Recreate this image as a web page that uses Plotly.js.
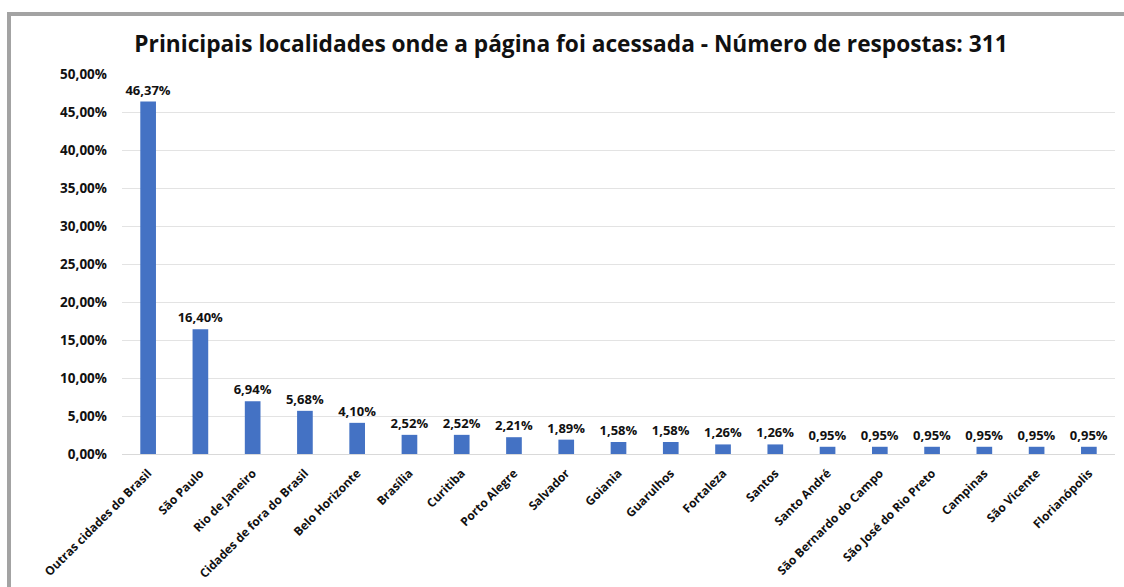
<!DOCTYPE html>
<html><head><meta charset="utf-8">
<script src="https://cdn.plot.ly/plotly-3.0.1.min.js"></script>
<style>
html,body{margin:0;padding:0;background:#fff;}
#wrap{position:relative;width:1124px;height:587px;overflow:hidden;}
#chart{width:1124px;height:587px;}
#frame{position:absolute;left:7px;top:12px;width:1130px;height:600px;border:4px solid #a3a3a3;pointer-events:none;box-sizing:border-box;}
</style></head>
<body>
<div id="wrap"><div id="chart"></div><div id="frame"></div></div>
<script>
const categories = ["Outras cidades do Brasil","São Paulo","Rio de Janeiro","Cidades de fora do Brasil","Belo Horizonte","Brasília","Curitiba","Porto Alegre","Salvador","Goiania","Guarulhos","Fortaleza","Santos","Santo André","São Bernardo do Campo","São José do Rio Preto","Campinas","São Vicente","Florianópolis"];
const values = [46.37,16.40,6.94,5.68,4.10,2.52,2.52,2.21,1.89,1.58,1.58,1.26,1.26,0.95,0.95,0.95,0.95,0.95,0.95];
const labels = values.map(v => v.toFixed(2).replace('.', ',') + '%');
const FONT = 'Open Sans, Noto Sans, sans-serif';
Plotly.newPlot('chart', [{
  type:'bar', x:categories, y:values, text:labels, textposition:'outside',
  cliponaxis:false, constraintext:'none',
  textfont:{family:FONT, size:13, color:'#111', weight:700},
  marker:{color:'#4472c4'}, hoverinfo:'skip'
}], {
  width:1124, height:587,
  margin:{l:122, r:9, t:74, b:133},
  paper_bgcolor:'#fff', plot_bgcolor:'#fff',
  separators:',.',
  bargap:0.7,
  title:{text:'Prinicipais localidades onde a página foi acessada - Número de respostas: 311',
    font:{family:FONT, size:22.7, color:'#111', weight:700}, x:0.508, xanchor:'center', y:0.925, yanchor:'middle'},
  xaxis:{tickangle:-45, tickfont:{family:FONT, size:12, color:'#111', weight:700}, showline:false, ticks:'', automargin:false, ticklabelstandoff:9},
  yaxis:{range:[0,50], dtick:5, tickformat:'.2f', ticksuffix:'%', showgrid:true, gridcolor:'#e3e3e3', gridwidth:1,
    zeroline:true, zerolinecolor:'#d9d9d9', zerolinewidth:1, showline:false, ticks:'', ticklen:0, ticklabelstandoff:14,
    tickfont:{family:FONT, size:13.5, color:'#111', weight:700}, automargin:false}
}, {displayModeBar:false, staticPlot:true});
</script>
</body></html>
